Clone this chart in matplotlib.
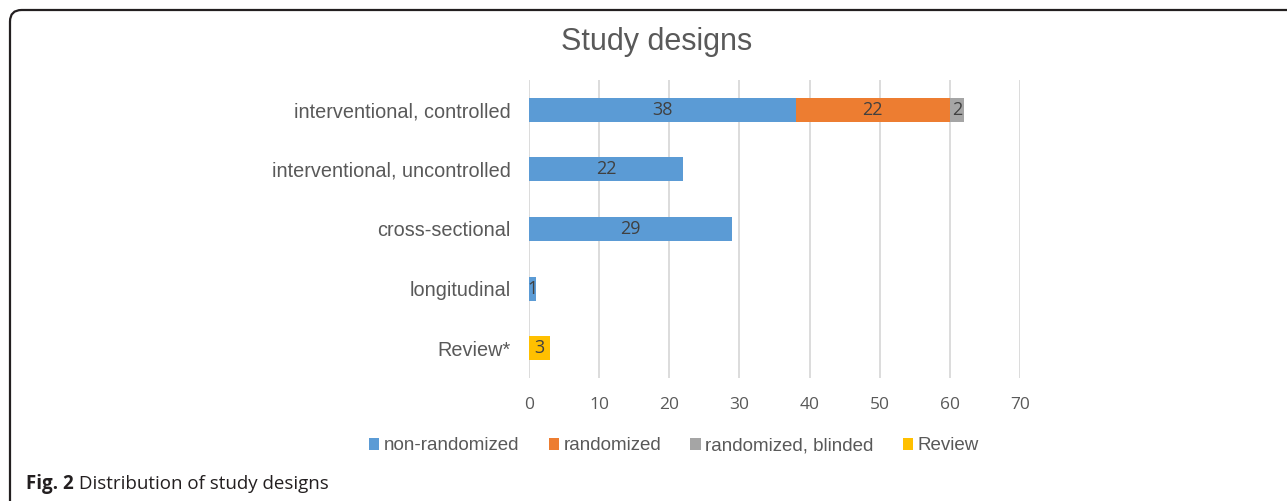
import numpy as np
import matplotlib.pyplot as plt
from matplotlib.patches import FancyBboxPatch

# data
categories = ['interventional, controlled', 'interventional, uncontrolled',
              'cross-sectional', 'longitudinal', 'Review*']
non_randomized = [38, 22, 29, 1, 0]
randomized = [22, 0, 0, 0, 0]
randomized_blinded = [2, 0, 0, 0, 0]
review = [0, 0, 0, 0, 3]
series_names = ['non-randomized', 'randomized', 'randomized, blinded', 'Review']
colors = ['#5B9BD5', '#ED7D31', '#A5A5A5', '#FFC000']

W, H = 1287, 501
fig = plt.figure(figsize=(W / 100, H / 100), dpi=100)
ax = fig.add_axes([529 / W, 1 - 378 / H, (1020 - 529) / W, (378 - 80) / H])

y = np.arange(len(categories))
left = np.zeros(len(categories))
handles = []
for vals, name, c in zip([non_randomized, randomized, randomized_blinded, review],
                         series_names, colors):
    vals = np.array(vals, dtype=float)
    bars = ax.barh(y, vals, left=left, height=0.4, color=c, label=name, zorder=3)
    handles.append(bars)
    for yi, (l, v) in enumerate(zip(left, vals)):
        if v > 0:
            ax.text(l + v / 2, yi, f'{int(v)}', ha='center', va='center',
                    fontsize=13, color='#404040', family='Open Sans', zorder=4)
    left += vals

ax.set_xlim(0, 70)
ax.set_ylim(len(categories) - 0.5, -0.5)
ax.set_xticks(range(0, 71, 10))
ax.set_yticks(y)
ax.set_yticklabels(categories, fontsize=14.3, color='#595959', family='Liberation Sans')
for lab in ax.get_xticklabels():
    lab.set_family('Open Sans')
    lab.set_fontsize(12.5)
    lab.set_color('#595959')
ax.tick_params(axis='both', length=0)
ax.tick_params(axis='y', pad=13)
ax.tick_params(axis='x', pad=14)
ax.grid(axis='x', color='#D9D9D9', linewidth=1.3, zorder=0)
for s in ax.spines.values():
    s.set_visible(False)

fig.text(657 / W, 1 - 42 / H, 'Study designs', ha='center', va='center',
         fontsize=22, color='#595959', family='Liberation Sans')

fig.legend(handles=handles, labels=series_names, loc='center',
           bbox_to_anchor=(674 / W, 1 - 446 / H), ncol=4, frameon=False,
           handlelength=0.55, handleheight=0.55, handletextpad=0.25,
           columnspacing=1.55, prop={'family': 'Liberation Sans', 'size': 13.5},
           labelcolor='#595959')

# caption
t1 = fig.text(26 / W, 1 - 484 / H, 'Fig. 2', fontsize=13.5, fontweight='bold',
              family='Open Sans', color='#231F20', va='center')
ax.annotate(' Distribution of study designs', xy=(1, 0.5), xycoords=t1,
            va='center', ha='left', fontsize=13.5, family='Open Sans',
            color='#231F20', annotation_clip=False)

# rounded frame
frame = FancyBboxPatch((10 / W, -20 / H), (W + 20) / W, (H + 20 - 10) / H,
                       boxstyle='round,pad=0,rounding_size=0.009',
                       transform=fig.transFigure, fill=False,
                       edgecolor='#231F20', linewidth=1.6, mutation_aspect=W / H)
fig.patches.append(frame)

fig.savefig('out.png', dpi=100)
